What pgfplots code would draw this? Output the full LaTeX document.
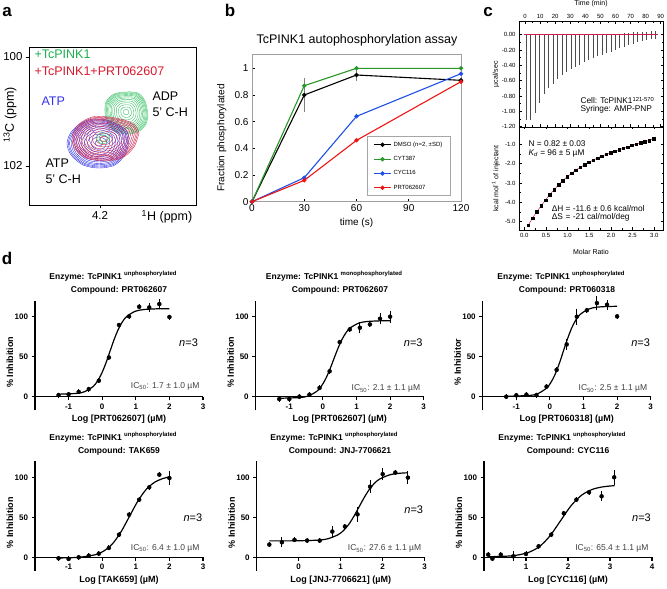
\documentclass[border=0pt]{standalone}
\usepackage{fontspec}
\setmainfont{Liberation Sans}
\setsansfont{Liberation Sans}
\usepackage{pgfplots}
\pgfplotsset{compat=1.18}
\usepackage{pgfplotstable}
\newcommand\fs[1]{\fontsize{#1}{#1}\selectfont}
\definecolor{cgreen}{RGB}{60,195,105}
\definecolor{cred}{RGB}{205,30,75}
\definecolor{cblue}{RGB}{50,50,235}
\definecolor{tgreen}{RGB}{30,175,80}
\definecolor{tred}{RGB}{215,25,45}
\definecolor{bgreen}{RGB}{40,150,40}
\definecolor{bblue}{RGB}{30,80,230}
\definecolor{bred}{RGB}{240,20,20}

% ---- panel a contour shapes (pixel units) ----
\pgfplotstableread{
x y
22 2
20 12
12 20
0 22
-12 19
-19 10
-21 0
-20 -10
-12 -18
0 -20
12 -19
19 -11
22 2
}\greenshape
\pgfplotstableread{
x y
30 -4
27 10
16 22
0 25
-16 22
-28 12
-32 0
-27 -12
-14 -22
2 -24
16 -20
27 -13
30 -4
}\blueshape
\pgfplotstableread{
x y
35 -6
30 8
18 19
0 22
-18 19
-29 10
-32 -2
-26 -14
-12 -22
4 -22
20 -19
31 -14
35 -6
}\redshape

% ---- panel b ----
\pgfplotstableread{
t f e
0 0 0
30 0.80 0.105
60 0.95 0.02
120 0.91 0
}\dmso
\pgfplotstableread{
t f
0 0
30 0.87
60 1.0
120 1.0
}\cyt
\pgfplotstableread{
t f
0 0
30 0.18
60 0.64
120 0.96
}\cyc
\pgfplotstableread{
t f
0 0
30 0.16
60 0.46
120 0.90
}\prt

% ---- panel c ----
\pgfplotstableread{
t p
0.9 -1.12
3.85 -1.12
6.8 -1.02
9.75 -0.89
12.7 -0.77
15.65 -0.70
18.6 -0.64
21.55 -0.58
24.5 -0.53
27.45 -0.49
30.4 -0.45
33.35 -0.42
36.3 -0.39
39.25 -0.36
42.2 -0.33
45.15 -0.31
48.1 -0.28
51.05 -0.26
54.0 -0.24
56.95 -0.22
59.9 -0.20
62.85 -0.18
65.8 -0.16
68.75 -0.14
71.7 -0.12
74.65 -0.10
77.6 -0.08
80.55 -0.07
83.5 -0.06
86.45 -0.05
}\itcraw
\pgfplotstableread{
t p
65.8 0.02
68.75 0.02
71.7 0.03
74.65 0.03
77.6 0.04
80.55 0.04
83.5 0.05
86.45 0.05
}\itcup
\pgfplotstableread{
m h
0.09 -5.19
0.19 -4.82
0.29 -4.48
0.39 -4.18
0.49 -3.88
0.59 -3.60
0.69 -3.34
0.79 -3.10
0.89 -2.88
0.99 -2.68
1.09 -2.50
1.19 -2.34
1.29 -2.19
1.39 -2.06
1.49 -1.93
1.59 -1.82
1.69 -1.71
1.79 -1.61
1.89 -1.52
1.99 -1.43
2.09 -1.35
2.19 -1.28
2.28 -1.21
2.38 -1.15
2.48 -1.05
2.58 -0.99
2.68 -0.93
2.78 -0.87
2.88 -0.80
2.98 -0.71
}\itc

% ---- panel d ----
\pgfplotstableread{
x y e
-1.3 2 0
-1.0 3 0
-0.7 6 0
-0.4 9.5 0
-0.1 20 0
0.2 49 0
0.5 89.6 0
0.8 100.4 0
1.1 112.4 0
1.4 111.6 3
1.7 115.8 3.5
2.0 99.6 0
}\dA
\pgfplotstableread{
x y e
-1.3 -2.9 0
-1.0 -2.9 0
-0.7 0 0
-0.4 2.5 0
-0.1 10.9 0
0.2 31.8 0
0.5 68.2 0
0.8 84.1 0
1.1 86.2 4
1.4 90.4 0
1.7 97.5 4
2.0 100 4.5
}\dB
\pgfplotstableread{
x y e
-1.3 0 0
-1.0 1.7 0
-0.7 2.5 0
-0.4 2 0
-0.1 12.6 0
0.2 33.5 0
0.5 65.3 4
0.8 100 7
1.1 108 0
1.4 117 6
1.7 115 3
2.0 100.4 0
}\dC
\pgfplotstableread{
x y e
-1.3 -1.25 0
-1.0 -2 0
-0.7 0 0
-0.4 2 0
-0.1 4.6 0
0.2 11.7 0
0.5 28.3 0
0.8 53.3 0
1.1 72 0
1.4 87.5 0
1.7 103.3 0
2.0 99 6
}\dD
\pgfplotstableread{
x y e
-0.7 15.9 0
-0.4 18.8 3
-0.1 21.8 0
0.2 20.9 0
0.5 20.9 0
0.8 32.2 4
1.1 38.5 0
1.4 53.6 6
1.7 88.3 5
2.0 104 4
2.3 105.9 0
2.6 99.6 5
}\dE
\pgfplotstableread{
x y e
0.1 3.3 0
0.2 -1.7 0
0.4 3.3 0
0.7 1.25 3
1.0 4.2 0
1.3 13.75 0
1.6 28.3 0
1.9 55 0
2.2 72 0
2.5 81.25 0
2.8 76.25 3
3.1 100 6
}\dF

\pgfplotsset{
  dax/.style={scale only axis, width=168pt, height=109.6pt, ymin=-17, ymax=120,
    axis x line=middle, axis y line=left,
    axis line style={-, line width=1.1pt},
    every inner x axis line/.append style={-},
    every outer y axis line/.append style={-},
    tick align=outside, major tick length=3.5pt,
    tick style={line width=1.1pt, black},
    ytick={0,50,100}, yticklabels={0,50,100},
    ticklabel style={font=\bfseries\fs{8}},
    xlabel style={at={(axis description cs:0.5,-0.085)}, anchor=center, font=\bfseries\fs{9}},
    ylabel style={at={(axis description cs:-0.149,0.44)}, anchor=center, font=\bfseries\fs{9}},
    clip=false},
  dpts/.style={only marks, mark=*, mark size=2pt, black,
    error bars/.cd, y dir=both, y explicit,
    error bar style={line width=1pt, black},
    error mark options={mark size=2.5pt, line width=1pt, black}},
  dfit/.style={black, line width=1.2pt, smooth, mark=none},
}

\begin{document}
\begin{tikzpicture}
\useasboundingbox (0pt,0pt) rectangle (667pt,589pt);

% panel labels
\node[font=\bfseries\fs{17}] at (7pt,577pt) {a};
\node[font=\bfseries\fs{17}] at (230pt,579pt) {b};
\node[font=\bfseries\fs{17}] at (488pt,577pt) {c};
\node[font=\bfseries\fs{17}] at (7pt,331pt) {d};

% ================= panel a =================
\begin{axis}[scale only axis, at={(29pt,384pt)}, anchor=south west,
  width=167pt, height=158pt,
  xmin=29, xmax=196, ymin=47, ymax=205, y dir=reverse,
  xtick={100}, xticklabels={4.2}, ytick={57,166}, yticklabels={100,102},
  xtick pos=left, ytick pos=left, tick align=outside, major tick length=3pt,
  axis line style={line width=0.8pt}, tick style={line width=0.8pt, black},
  ticklabel style={font=\fs{11.5}}, clip=false]
\pgfplotsinvokeforeach{0.12,0.25,0.36,0.46,0.55,0.63,0.70,0.76,0.82,0.87,0.92,0.96,1.0}{
  \addplot[cgreen, line width=0.4pt, smooth] table[x expr={126+#1*\thisrow{x}}, y expr={112+#1*\thisrow{y}}] {\greenshape};
}
\pgfplotsinvokeforeach{0.12,0.25,0.36,0.46,0.55,0.63,0.70,0.76,0.82,0.87,0.92,0.96,1.0}{
  \addplot[cblue, line width=0.4pt, smooth] table[x expr={99+#1*\thisrow{x}}, y expr={143+#1*\thisrow{y}}] {\blueshape};
}
\pgfplotsinvokeforeach{0.12,0.25,0.36,0.46,0.55,0.63,0.70,0.76,0.82,0.87,0.92,0.96,1.0}{
  \addplot[cred, line width=0.4pt, smooth] table[x expr={104+#1*\thisrow{x}}, y expr={139+#1*\thisrow{y}}] {\redshape};
}
\addplot[cgreen, line width=0.5pt, smooth] table[x expr={103+0.3*\thisrow{x}}, y expr={138+0.25*\thisrow{y}}] {\greenshape};
\addplot[cgreen, line width=0.5pt, smooth] table[x expr={103+0.18*\thisrow{x}}, y expr={138+0.15*\thisrow{y}}] {\greenshape};
\node[anchor=west, font=\fs{12.5}, text=tgreen] at (axis cs:31,54) {+TcPINK1};
\node[anchor=west, font=\fs{12.5}, text=tred] at (axis cs:31,71) {+TcPINK1+PRT062607};
\node[anchor=west, font=\fs{12.5}, text=cblue] at (axis cs:38,101) {ATP};
\node[anchor=west, font=\fs{12.5}] at (axis cs:149,96.5) {ADP};
\node[anchor=west, font=\fs{12.5}] at (axis cs:149,112.5) {5' C-H};
\node[anchor=west, font=\fs{12.5}] at (axis cs:42,163) {ATP};
\node[anchor=west, font=\fs{12.5}] at (axis cs:42,179) {5' C-H};
\node[font=\fs{12.5}] at (axis cs:167,217) {\textsuperscript{1}H (ppm)};
\node[font=\fs{12.5}, rotate=90] at (axis cs:10,115) {\textsuperscript{13}C (ppm)};
\end{axis}

% ================= panel b =================
\node[font=\fs{12.5}] at (357pt,549pt) {TcPINK1 autophosphorylation assay};
\begin{axis}[scale only axis, at={(252pt,387.3pt)}, anchor=south west,
  width=209pt, height=146.7pt,
  xmin=0, xmax=120, ymin=0, ymax=1.1,
  xtick={0,30,60,90,120}, xticklabels={0,30,60,90,120},
  ytick={0,0.2,0.4,0.6,0.8,1}, yticklabels={0,0.2,0.4,0.6,0.8,1},
  xtick pos=left, ytick pos=left, tick align=inside, major tick length=3pt,
  axis line style={gray!75, line width=1pt}, tick style={black, line width=0.6pt},
  ticklabel style={font=\fs{10}},
  xticklabel style={yshift=1pt},
  xlabel={time (s)}, ylabel={Fraction phosphorylated},
  xlabel style={font=\fs{10}, at={(axis description cs:0.5,-0.145)}, anchor=center},
  ylabel style={font=\fs{10}, at={(axis description cs:-0.145,0.434)}, anchor=center},
  legend style={at={(axis description cs:0.55,0.445)}, anchor=north west,
    font=\fs{6}, draw=gray!70, line width=0.9pt, row sep=4.6pt,
    inner xsep=6pt, inner ysep=3pt, cells={anchor=west}},
  clip=false]
\addplot[black, line width=1.1pt, mark=*, mark size=1.6pt,
  error bars/.cd, y dir=both, y explicit,
  error bar style={gray, line width=0.8pt},
  error mark options={gray, mark size=3pt, line width=0.8pt}]
  table[x=t, y=f, y error=e] {\dmso};
\addlegendentry{DMSO (n=2, ±SD)}
\addplot[bgreen, line width=1.1pt, mark=*, mark size=1.6pt] table[x=t, y=f] {\cyt};
\addlegendentry{CYT387}
\addplot[bblue, line width=1.1pt, mark=*, mark size=1.6pt] table[x=t, y=f] {\cyc};
\addlegendentry{CYC116}
\addplot[bred, line width=1.1pt, mark=*, mark size=1.6pt] table[x=t, y=f] {\prt};
\addlegendentry{PRT062607}
\end{axis}

% ================= panel c =================
\begin{axis}[scale only axis, at={(519pt,462pt)}, anchor=south west,
  width=144pt, height=105.3pt,
  xmin=-4, xmax=91.5, ymin=-1.205, ymax=0.17,
  xtick={0,10,20,30,40,50,60,70,80,90}, xticklabels={0,10,20,30,40,50,60,70,80,90},
  xticklabel pos=upper,
  ytick={0,-0.2,-0.4,-0.6,-0.8,-1,-1.2},
  yticklabels={0.00,-0.20,-0.40,-0.60,-0.80,-1.00,-1.20},
  minor x tick num=1, minor y tick num=1,
  tick align=inside, major tick length=2.5pt, minor tick length=1.5pt,
  ticklabel style={font=\fs{6}}, axis line style={line width=0.6pt},
  tick style={line width=0.5pt, black},
  ylabel={µcal/sec},
  ylabel style={font=\fs{7}, at={(axis description cs:-0.16,0.5)}, anchor=center},
  clip=false]
\addplot[ycomb, gray!60!black, line width=0.7pt, mark=none] table[x=t, y=p] {\itcraw};
\addplot[ycomb, gray!60!black, line width=0.7pt, mark=none] table[x=t, y=p] {\itcup};
\addplot[cred, line width=0.6pt, mark=none] coordinates {(-1,0) (88,0)};
\node[anchor=west, font=\fs{8.3}] at (axis cs:34.5,-0.86) {Cell: TcPINK1\textsuperscript{121-570}};
\node[anchor=west, font=\fs{8.3}] at (axis cs:34.5,-0.98) {Syringe: AMP-PNP};
\node[font=\fs{7}] at (axis description cs:0.5,1.168) {Time (min)};
\end{axis}

\begin{axis}[scale only axis, at={(519pt,359pt)}, anchor=south west,
  width=144pt, height=103pt,
  xmin=-0.122, xmax=3.2, ymin=-5.43, ymax=-0.106,
  xtick={0,0.5,1,1.5,2,2.5,3}, xticklabels={0.0,0.5,1.0,1.5,2.0,2.5,3.0},
  ytick={-1,-2,-3,-4,-5}, yticklabels={-1.0,-2.0,-3.0,-4.0,-5.0},
  minor x tick num=1, minor y tick num=1,
  tick align=inside, major tick length=2.5pt, minor tick length=1.5pt,
  ticklabel style={font=\fs{6}}, axis line style={line width=0.6pt},
  tick style={line width=0.5pt, black},
  xlabel={Molar Ratio}, ylabel={kcal mol\textsuperscript{-1} of injectant},
  xlabel style={font=\fs{7}, at={(axis description cs:0.5,-0.21)}, anchor=center},
  ylabel style={font=\fs{7}, at={(axis description cs:-0.16,0.5)}, anchor=center},
  clip=false]
\addplot[cred, line width=0.5pt, smooth, mark=none] table[x=m, y=h] {\itc};
\addplot[only marks, mark=square*, mark size=1.3pt, black] table[x=m, y=h] {\itc};
\node[anchor=west, font=\fs{8.3}] at (axis cs:0.02,-0.98) {N = 0.82 ± 0.03};
\node[anchor=west, font=\fs{8.3}] at (axis cs:0.02,-1.45) {\textit{K\textsubscript{d}} = 96 ± 5 µM};
\node[anchor=west, font=\fs{8.3}, inner sep=0pt] at (axis cs:0.63,-4.6)
  {\begin{tabular}{@{}l@{\ }l@{}}ΔH & = -11.6 ± 0.6 kcal/mol\\[-1pt] ΔS & = -21 cal/mol/deg\end{tabular}};
\end{axis}

% ================= panel d titles =================
\node[font=\bfseries\fs{8.5}] at (113pt,313pt) {Enzyme: TcPINK1 \raisebox{3.5pt}{\fs{6}unphosphorylated}};
\node[font=\bfseries\fs{8.5}] at (119pt,299pt) {Compound: PRT062607};
\node[font=\bfseries\fs{8.5}] at (334pt,313pt) {Enzyme: TcPINK1 \raisebox{3.5pt}{\fs{6}monophosphorylated}};
\node[font=\bfseries\fs{8.5}] at (340pt,299pt) {Compound: PRT062607};
\node[font=\bfseries\fs{8.5}] at (561pt,313pt) {Enzyme: TcPINK1 \raisebox{3.5pt}{\fs{6}unphosphorylated}};
\node[font=\bfseries\fs{8.5}] at (567pt,299pt) {Compound: PRT060318};
\node[font=\bfseries\fs{8.5}] at (113pt,152pt) {Enzyme: TcPINK1 \raisebox{3.5pt}{\fs{6}unphosphorylated}};
\node[font=\bfseries\fs{8.5}] at (119pt,138pt) {Compound: TAK659};
\node[font=\bfseries\fs{8.5}] at (334pt,152pt) {Enzyme: TcPINK1 \raisebox{3.5pt}{\fs{6}unphosphorylated}};
\node[font=\bfseries\fs{8.5}] at (340pt,138pt) {Compound: JNJ-7706621};
\node[font=\bfseries\fs{8.5}] at (562pt,152pt) {Enzyme: TcPINK1 \raisebox{3.5pt}{\fs{6}unphosphorylated}};
\node[font=\bfseries\fs{8.5}] at (568pt,138pt) {Compound: CYC116};

% ================= panel d plots =================
\begin{axis}[dax, at={(35pt,178.7pt)}, anchor=south west,
  xmin=-2, xmax=3, xtick={-1,0,1,2,3}, xticklabels={-1,0,1,2,3},
  xlabel={Log [PRT062607] (µM)}, ylabel={\% Inhibition}]
\addplot[dfit] coordinates {(-1.33,3.1)(-0.77,4.1)(-0.52,6.3)(-0.27,12.7)(-0.145,19.2)(-0.02,28.7)(0.105,41.5)(0.23,56.5)(0.355,71.5)(0.48,84.3)(0.605,93.8)(0.73,100.3)(0.98,106.7)(1.23,108.9)(1.6,109.8)(2.0,110)};
\addplot[dpts] table[x=x, y=y, y error=e] {\dA};
\node[font=\fs{11}] at (axis cs:2.57,67) {\textit{n}=3};
\node[anchor=east, font=\fs{8.5}, text=black!75] at (axis cs:3,13) {IC\textsubscript{50}: 1.7 ± 1.0 µM};
\end{axis}

\begin{axis}[dax, at={(255.7pt,178.7pt)}, anchor=south west,
  xmin=-2, xmax=3, xtick={-1,0,1,2,3}, xticklabels={-1,0,1,2,3},
  xlabel={Log [PRT062607] (µM)}, ylabel={\% Inhibition}]
\addplot[dfit] coordinates {(-1.31,-2)(-0.68,-1.0)(-0.43,1.0)(-0.18,6.8)(-0.055,12.6)(0.07,21.3)(0.195,32.9)(0.32,46.5)(0.445,60.1)(0.57,71.7)(0.695,80.4)(0.82,86.2)(1.07,92)(1.32,94)(1.7,94.8)(2.0,95)};
\addplot[dpts] table[x=x, y=y, y error=e] {\dB};
\node[font=\fs{11}] at (axis cs:2.69,67) {\textit{n}=3};
\node[anchor=east, font=\fs{8.5}, text=black!75] at (axis cs:3,10) {IC\textsubscript{50}: 2.1 ± 1.1 µM};
\end{axis}

\begin{axis}[dax, at={(482.7pt,178.7pt)}, anchor=south west,
  xmin=-2, xmax=3, xtick={-1,0,1,2,3}, xticklabels={-1,0,1,2,3},
  xlabel={Log [PRT060318] (µM)}, ylabel={\% Inhibitor}]
\addplot[dfit] coordinates {(-1.29,0.5)(-0.6,1.6)(-0.35,4.0)(-0.1,10.7)(0.025,17.5)(0.15,27.5)(0.275,41)(0.4,56.75)(0.525,72.5)(0.65,86)(0.775,96)(0.9,102.8)(1.15,109.5)(1.4,111.9)(1.7,112.7)(2.0,113)};
\addplot[dpts] table[x=x, y=y, y error=e] {\dC};
\node[font=\fs{11}] at (axis cs:2.7,67.5) {\textit{n}=3};
\node[anchor=east, font=\fs{8.5}, text=black!75] at (axis cs:3,10) {IC\textsubscript{50}: 2.5 ± 1.1 µM};
\end{axis}

\begin{axis}[dax, at={(35pt,18.1pt)}, anchor=south west,
  xmin=-2, xmax=3, xtick={-1,0,1,2,3}, xticklabels={-1,0,1,2,3},
  xlabel={Log [TAK659] (µM)}, ylabel={\% Inhibition}]
\addplot[dfit] coordinates {(-1.29,-0.84)(-0.69,0)(-0.19,3.4)(0.06,8.2)(0.31,17.1)(0.56,31.8)(0.81,51)(1.06,70.2)(1.31,84.9)(1.56,93.8)(1.81,98.5)(2.0,100.5)};
\addplot[dpts] table[x=x, y=y, y error=e] {\dD};
\node[font=\fs{11}] at (axis cs:2.7,49.5) {\textit{n}=3};
\node[anchor=east, font=\fs{8.5}, text=black!75] at (axis cs:3,11) {IC\textsubscript{50}: 6.4 ± 1.0 µM};
\end{axis}

\begin{axis}[dax, at={(256.7pt,18.1pt)}, anchor=south west,
  xmin=-1, xmax=3, xtick={0,1,2,3}, xticklabels={0,1,2,3},
  xlabel={Log [JNJ-7706621] (µM)}, ylabel={\% Inhibition}]
\addplot[dfit] coordinates {(-0.7,20.5)(-0.1,20.6)(0.44,21.4)(0.69,23.1)(0.94,28.3)(1.065,33.4)(1.19,41)(1.315,51.3)(1.44,63.25)(1.565,75.2)(1.69,85.5)(1.815,93.1)(1.94,98.2)(2.19,103.4)(2.44,105.2)(2.6,105.6)};
\addplot[dpts] table[x=x, y=y, y error=e] {\dE};
\node[font=\fs{11}] at (axis cs:2.74,59) {\textit{n}=3};
\node[anchor=east, font=\fs{8.5}, text=black!75] at (axis cs:3,10.5) {IC\textsubscript{50}: 27.6 ± 1.1 µM};
\end{axis}

\begin{axis}[dax, at={(484pt,18.1pt)}, anchor=south west,
  xmin=0, xmax=4, xtick={1,2,3,4}, xticklabels={1,2,3,4},
  xlabel={Log [CYC116] (µM)}, ylabel={\% Inhibition}]
\addplot[dfit] coordinates {(0.11,0.7)(0.57,1.5)(0.82,3.0)(1.07,6.3)(1.32,13.4)(1.57,26.7)(1.82,45.5)(2.07,64.3)(2.32,77.5)(2.57,84.7)(2.82,88)(3.11,89.6)};
\addplot[dpts] table[x=x, y=y, y error=e] {\dF};
\node[font=\fs{11}] at (axis cs:3.75,49.5) {\textit{n}=3};
\node[anchor=east, font=\fs{8.5}, text=black!75] at (axis cs:4,11) {IC\textsubscript{50}: 65.4 ± 1.1 µM};
\end{axis}
\end{tikzpicture}
\end{document}
